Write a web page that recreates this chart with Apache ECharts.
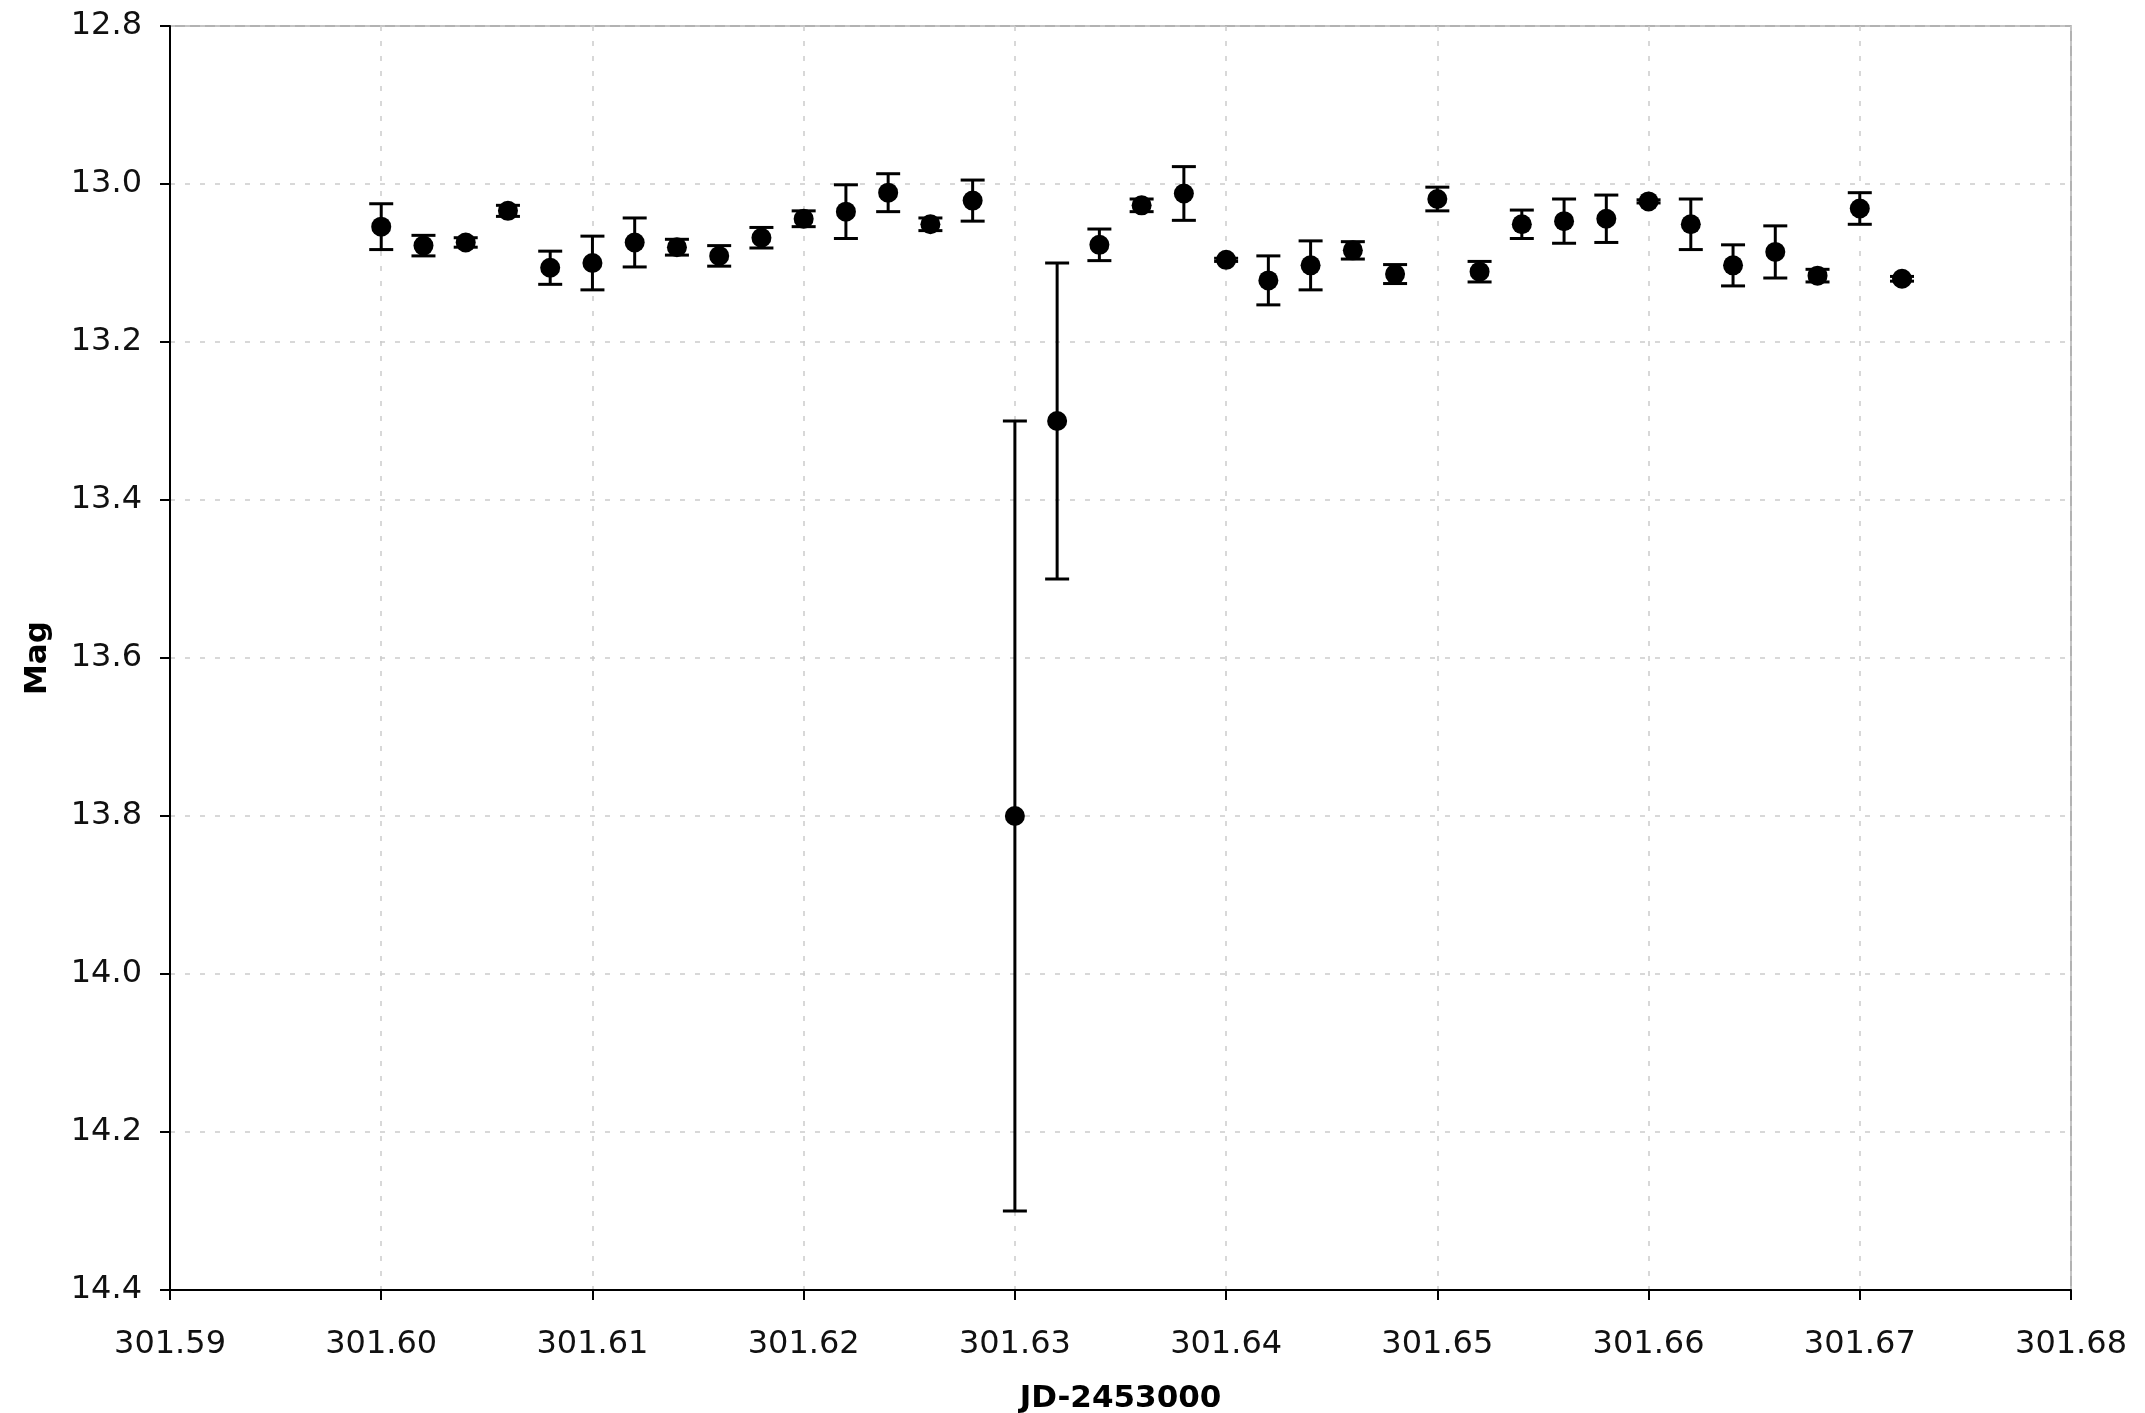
<!DOCTYPE html>
<html>
<head>
<meta charset="utf-8">
<script src="https://cdn.jsdelivr.net/npm/echarts@6/dist/echarts.min.js"></script>
<style>html,body{margin:0;padding:0;background:#fff}#c{width:2145px;height:1413px}</style>
</head>
<body>
<div id="c"></div>
<script>
const jd = [301.600,301.602,301.604,301.606,301.608,301.610,301.612,301.614,301.616,301.618,
            301.620,301.622,301.624,301.626,301.628,301.630,301.632,301.634,301.636,301.638,
            301.640,301.642,301.644,301.646,301.648,301.650,301.652,301.654,301.656,301.658,
            301.660,301.662,301.664,301.666,301.668,301.670,301.672];
const mag = [13.054,13.078,13.074,13.034,13.106,13.100,13.074,13.080,13.091,13.068,
             13.044,13.035,13.011,13.051,13.021,13.800,13.300,13.077,13.027,13.012,
             13.096,13.122,13.103,13.084,13.114,13.019,13.111,13.051,13.047,13.044,
             13.022,13.051,13.103,13.086,13.116,13.031,13.120];
const err = [0.029,0.013,0.006,0.007,0.021,0.034,0.031,0.010,0.013,0.013,
             0.010,0.034,0.024,0.008,0.026,0.500,0.200,0.020,0.008,0.034,
             0.002,0.031,0.031,0.011,0.012,0.015,0.013,0.018,0.028,0.030,
             0.002,0.032,0.026,0.033,0.008,0.020,0.003];
const xTickMin = 301.59, xTickMax = 301.68, xStep = 0.01;
const yTickMin = 12.8, yTickMax = 14.4, yStep = 0.2;

const pts = jd.map((x, i) => [x, mag[i]]);
const bars = jd.map((x, i) => [x, mag[i] - err[i], mag[i] + err[i]]);

const chart = echarts.init(document.getElementById('c'));
const font = 'Verdana, "DejaVu Sans", sans-serif';
chart.setOption({
  animation: false,
  grid: { left: 170, top: 26, right: 74, bottom: 123, show: true, borderColor: '#999', borderWidth: 1.5,
          containLabel: false, outerBoundsMode: 'none' },
  xAxis: {
    type: 'value', min: xTickMin, max: xTickMax, interval: xStep,
    name: 'JD-2453000', nameLocation: 'middle', nameGap: 93,
    nameTextStyle: { fontFamily: font, fontSize: 31, fontWeight: 'bold', color: '#000' },
    axisLine: { lineStyle: { color: '#000', width: 2 } },
    axisTick: { length: 10, lineStyle: { color: '#000', width: 2 } },
    axisLabel: { margin: 39, fontFamily: font, fontSize: 32, color: '#111', formatter: v => v.toFixed(2) },
    splitLine: { show: true, lineStyle: { color: '#ccc', width: 1.5, type: [5, 10] } }
  },
  yAxis: {
    type: 'value', inverse: true, min: yTickMin, max: yTickMax, interval: yStep,
    name: 'Mag', nameLocation: 'middle', nameGap: 117, nameRotate: 90,
    nameTextStyle: { fontFamily: font, fontSize: 31, fontWeight: 'bold', color: '#000' },
    axisLine: { lineStyle: { color: '#000', width: 2 } },
    axisTick: { length: 10, lineStyle: { color: '#000', width: 2 } },
    axisLabel: { margin: 28, fontFamily: font, fontSize: 32, color: '#111', formatter: v => v.toFixed(1) },
    splitLine: { show: true, lineStyle: { color: '#ccc', width: 1.5, type: [5, 10] } }
  },
  series: [
    {
      type: 'custom',
      data: bars,
      encode: { x: 0, y: [1, 2] },
      renderItem: function (params, api) {
        const x = api.value(0);
        const lo = api.coord([x, api.value(1)]);
        const hi = api.coord([x, api.value(2)]);
        const hw = 12;
        const st = { stroke: '#000', lineWidth: 3 };
        return {
          type: 'group',
          children: [
            { type: 'line', shape: { x1: lo[0], y1: lo[1], x2: hi[0], y2: hi[1] }, style: st },
            { type: 'line', shape: { x1: lo[0] - hw, y1: lo[1], x2: lo[0] + hw, y2: lo[1] }, style: st },
            { type: 'line', shape: { x1: hi[0] - hw, y1: hi[1], x2: hi[0] + hw, y2: hi[1] }, style: st }
          ]
        };
      },
      z: 2
    },
    {
      type: 'scatter',
      data: pts,
      symbol: 'circle',
      symbolSize: 20,
      itemStyle: { color: '#000', opacity: 1 },
      z: 3
    }
  ]
});
</script>
</body>
</html>
